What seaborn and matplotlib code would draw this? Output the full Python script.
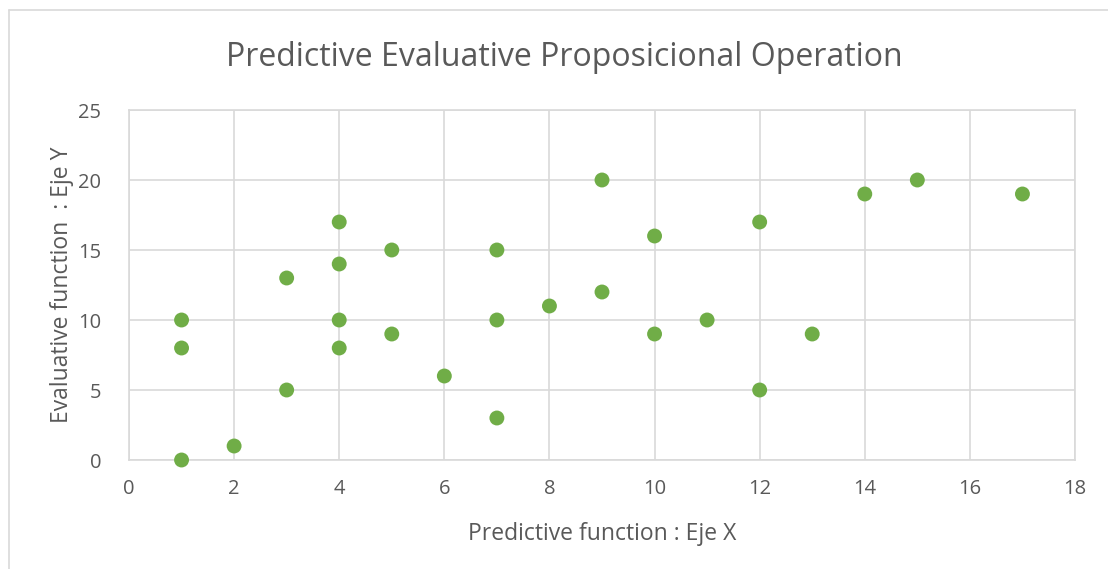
import matplotlib
matplotlib.use("Agg")
import matplotlib.pyplot as plt
import seaborn as sns
import pandas as pd
from matplotlib.lines import Line2D

predictive = [1, 1, 1, 2, 3, 3, 4, 4, 4, 4, 5, 5, 6, 7, 7, 7, 8, 9, 9, 10, 10, 11, 12, 12, 13, 14, 15, 17]
evaluative = [10, 8, 0, 1, 13, 5, 17, 14, 10, 8, 15, 9, 6, 15, 10, 3, 11, 20, 12, 16, 9, 10, 17, 5, 9, 19, 20, 19]
x_ticks = list(range(0, 19, 2))
y_ticks = list(range(0, 26, 5))

df = pd.DataFrame({"x": predictive, "y": evaluative})

sns.set_style("white")
plt.rcParams["font.family"] = ["Open Sans", "DejaVu Sans"]
txt = "#595959"
grid = "#d9d9d9"

fig = plt.figure(figsize=(11.08, 5.69), dpi=100)
ax = fig.add_axes([129 / 1108, 1 - 460 / 569, (1075 - 129) / 1108, (460 - 110) / 569])

sns.scatterplot(data=df, x="x", y="y", ax=ax, color="#70ad47", s=115,
                edgecolor="none", zorder=3, clip_on=False)

ax.set_xlim(0, 18)
ax.set_ylim(0, 25)
ax.set_xticks(x_ticks)
ax.set_yticks(y_ticks)
ax.grid(True, color=grid, linewidth=1.2)
for sp in ax.spines.values():
    sp.set_color(grid)
    sp.set_linewidth(1.2)
ax.tick_params(length=0, labelsize=14.5, colors=txt)
ax.tick_params(axis="x", pad=14)
ax.tick_params(axis="y", pad=20)

ax.set_xlabel("Predictive function : Eje X", fontsize=16.5, color=txt, labelpad=16)
ax.set_ylabel("Evaluative function  : Eje Y", fontsize=16.5, color=txt, labelpad=3)
fig.text(564 / 1108, 1 - 58 / 569, "Predictive Evaluative Proposicional Operation",
         ha="center", va="center", fontsize=23, color=txt)

# chart frame
fig.add_artist(Line2D([9 / 1108, 9 / 1108], [0, 1 - 10 / 569], color=grid, linewidth=1.2))
fig.add_artist(Line2D([9 / 1108, 1], [1 - 10 / 569, 1 - 10 / 569], color=grid, linewidth=1.2))

fig.savefig("out.png", dpi=100)
